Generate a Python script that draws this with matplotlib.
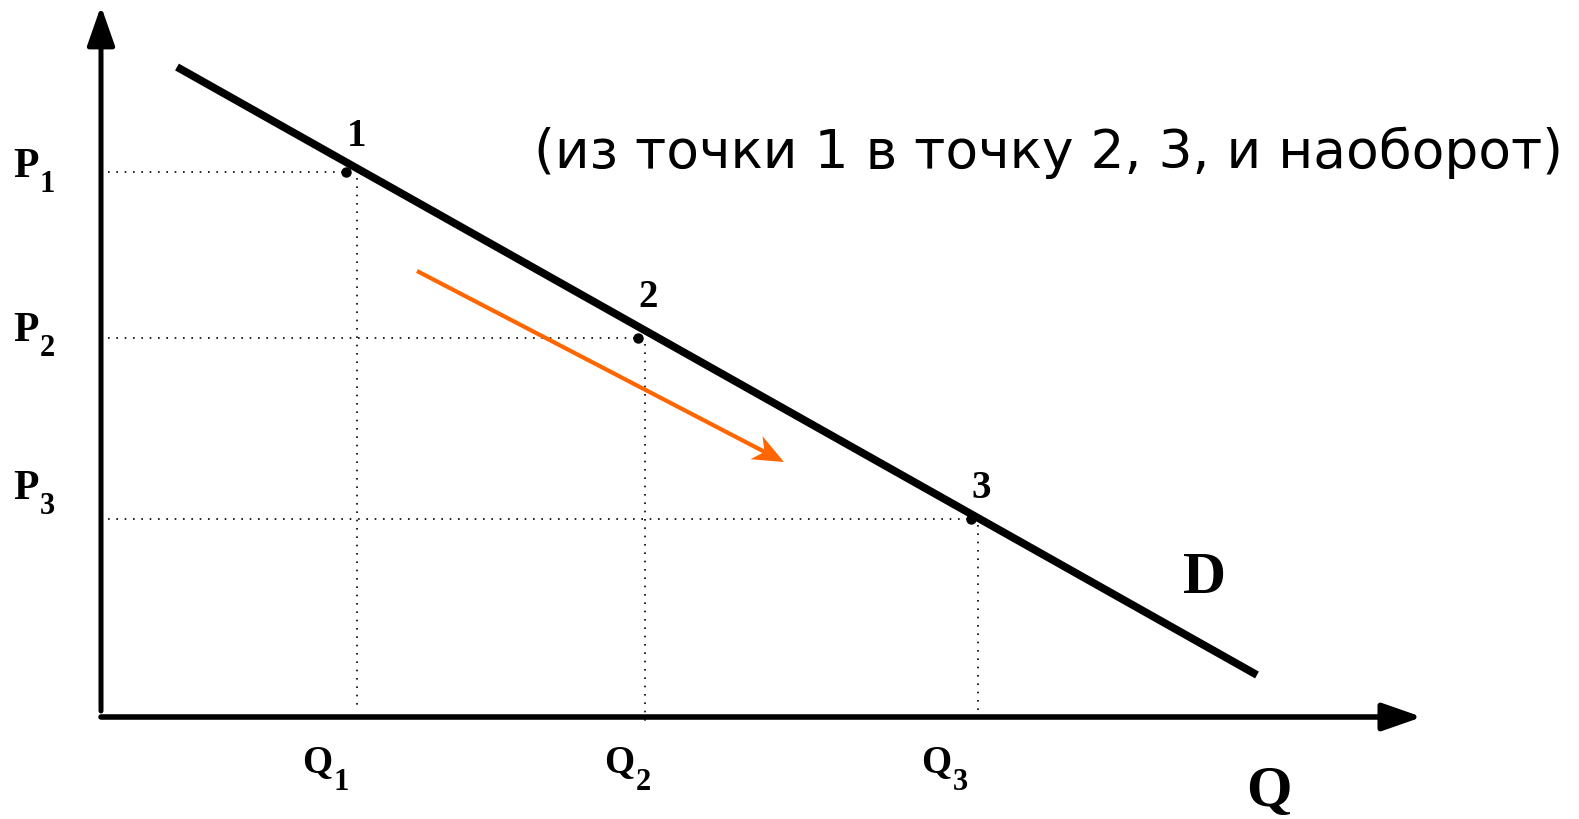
import numpy as np
import matplotlib
matplotlib.use("Agg")
import matplotlib.pyplot as plt
from matplotlib.patches import Polygon

# ---- data (schematic units, origin at the axes corner) ----
point_labels = ["1", "2", "3"]
point_q = [245, 537, 870]          # dots on the demand curve
point_p = [545, 379, 198]
grid_q = [256, 544, 877]           # Q1, Q2, Q3 guide lines
grid_bottom = [9, -5, 5]
q_subs = ["1", "2", "3"]
p_subs = ["1", "2", "3"]
demand_q = [76, 1156]
demand_p = [650, 42]
move_q = [316, 683]                # orange arrow (movement along D)
move_p = [446, 255]
caption = "(из точки 1 в точку 2, 3, и наоборот)"

SERIF = ["Liberation Serif", "DejaVu Serif"]

fig = plt.figure(figsize=(15.79, 8.20), dpi=100)
ax = fig.add_axes([0, 0, 1, 1])
ax.set_xlim(-101, 1478)
ax.set_ylim(-102, 718)
ax.axis("off")

# axes with arrows
ax.annotate("", xy=(0, 711), xytext=(0, 6),
            arrowprops=dict(arrowstyle="-|>,head_length=1.2,head_width=0.42",
                            mutation_scale=20, lw=3.6, color="black",
                            shrinkA=0, shrinkB=0))
ax.annotate("", xy=(1321, 0), xytext=(0, 0),
            arrowprops=dict(arrowstyle="-|>,head_length=1.2,head_width=0.42",
                            mutation_scale=20, lw=4.0, color="black",
                            shrinkA=0, shrinkB=0))

# dotted guides
dot_ls = (0, (1, 4))
for q, p in zip(point_q, point_p):
    ax.plot([7, q], [p, p], color="black", lw=1.2, linestyle=dot_ls)
for gq, p, b in zip(grid_q, point_p, grid_bottom):
    ax.plot([gq, gq], [p - 6, b], color="black", lw=1.2, linestyle=dot_ls)

# demand curve
ax.plot(demand_q, demand_p, color="black", lw=5.6, solid_capstyle="butt")

# points
ax.plot(point_q, point_p, "o", color="black", ms=6.5)

# orange arrow
s = np.array([move_q[0], move_p[0]], float)
t = np.array([move_q[1], move_p[1]], float)
d = (t - s) / np.linalg.norm(t - s)
n = np.array([-d[1], d[0]])
base = t - 31 * d
notch = t - 22 * d
ax.plot([s[0], notch[0]], [s[1], notch[1]], color="#FF6600", lw=3.0,
        solid_capstyle="butt")
ax.add_patch(Polygon([t, base + 13 * n, notch, base - 13 * n],
                     closed=True, color="#FF6600", lw=0))

# point labels
label_offsets = [(11, 27), (10, 32), (10, 22)]
for lab, q, p, (dx, dy) in zip(point_labels, point_q, point_p, label_offsets):
    ax.text(q + dx, p + dy, lab, family=SERIF, weight="bold", fontsize=28,
            ha="center", va="baseline")

# price labels
p_base = [541, 377, 219]
for sub, pb in zip(p_subs, p_base):
    ax.text(-88, pb, "P", family=SERIF, weight="bold", fontsize=30,
            ha="left", va="baseline")
    ax.text(-61, pb - 15, sub, family=SERIF, weight="bold", fontsize=22,
            ha="left", va="baseline")

# quantity labels
q_left = [201, 503, 820]
for sub, ql in zip(q_subs, q_left):
    ax.text(ql, -54, "Q", family=SERIF, weight="bold", fontsize=28,
            ha="left", va="baseline")
    ax.text(ql + 32, -72, sub, family=SERIF, weight="bold", fontsize=22,
            ha="left", va="baseline")

ax.text(1168, -88, "Q", family=SERIF, weight="bold", fontsize=42,
        ha="center", va="baseline")
ax.text(1103, 125, "D", family=SERIF, weight="bold", fontsize=43,
        ha="center", va="baseline")

ax.text(433, 565, caption, family=["DejaVu Sans"], fontsize=38.5,
        ha="left", va="center")

fig.savefig("out.png", dpi=100)
